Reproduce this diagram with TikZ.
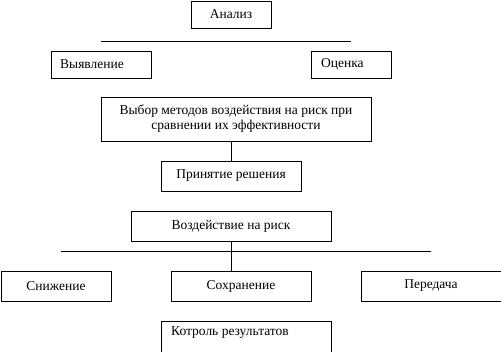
\documentclass[tikz,border=0pt]{standalone}
\usepackage{fontspec}
\setmainfont{Liberation Serif}
\begin{document}
\begin{tikzpicture}[x=1pt,y=-1pt,
  box/.style={draw=black,line width=1pt,fill=white,inner sep=0pt},
  lbl/.style={font=\fontsize{13.5}{15}\selectfont,inner sep=0pt},
  ln/.style={draw=black,line width=1pt}]
\useasboundingbox (0,0) rectangle (501,351);
% boxes
\node[box,minimum width=80,minimum height=27] (an) at (231,14.5) {};
\node[lbl] at (an) {Анализ};
\node[box,minimum width=100,minimum height=27] (vy) at (101,64.5) {};
\node[lbl,anchor=west] at (60,64.5) {Выявление};
\node[box,minimum width=80,minimum height=27] (oc) at (351,64.5) {};
\node[lbl,anchor=west] at (321,64.5) {Оценка};
\node[box,minimum width=270,minimum height=44] (vb) at (236,119) {};
\node[lbl,align=center] at (236,119) {Выбор методов воздействия на риск при\\сравнении их эффективности};
\node[box,minimum width=140,minimum height=30] (pr) at (231,176) {};
\node[lbl] at (pr) {Принятие решения};
\node[box,minimum width=200,minimum height=30] (vo) at (231,226) {};
\node[lbl] at (vo) {Воздействие на риск};
\node[box,minimum width=110,minimum height=30] (sn) at (56,286) {};
\node[lbl] at (sn) {Снижение};
\node[box,minimum width=140,minimum height=30] (so) at (241,286) {};
\node[lbl] at (so) {Сохранение};
\node[box,minimum width=140,minimum height=30] (pe) at (431,286) {};
\node[lbl] at (pe) {Передача};
\node[box,minimum width=170,minimum height=34] (ko) at (246,338) {};
\node[lbl,anchor=west] at (171,333) {Котроль результатов};
% lines
\coordinate (l1a) at (101,41); \coordinate (l1b) at (351,41);
\draw[ln] (l1a) -- (l1b);
\draw[ln] (231,141) coordinate (c1) -- (pr.north);
\coordinate (l2a) at (61,251); \coordinate (l2b) at (431,251);
\draw[ln] (l2a) -- (l2b);
\draw[ln] (vo.south) -- (231,271) coordinate (c2);
\end{tikzpicture}
\end{document}
